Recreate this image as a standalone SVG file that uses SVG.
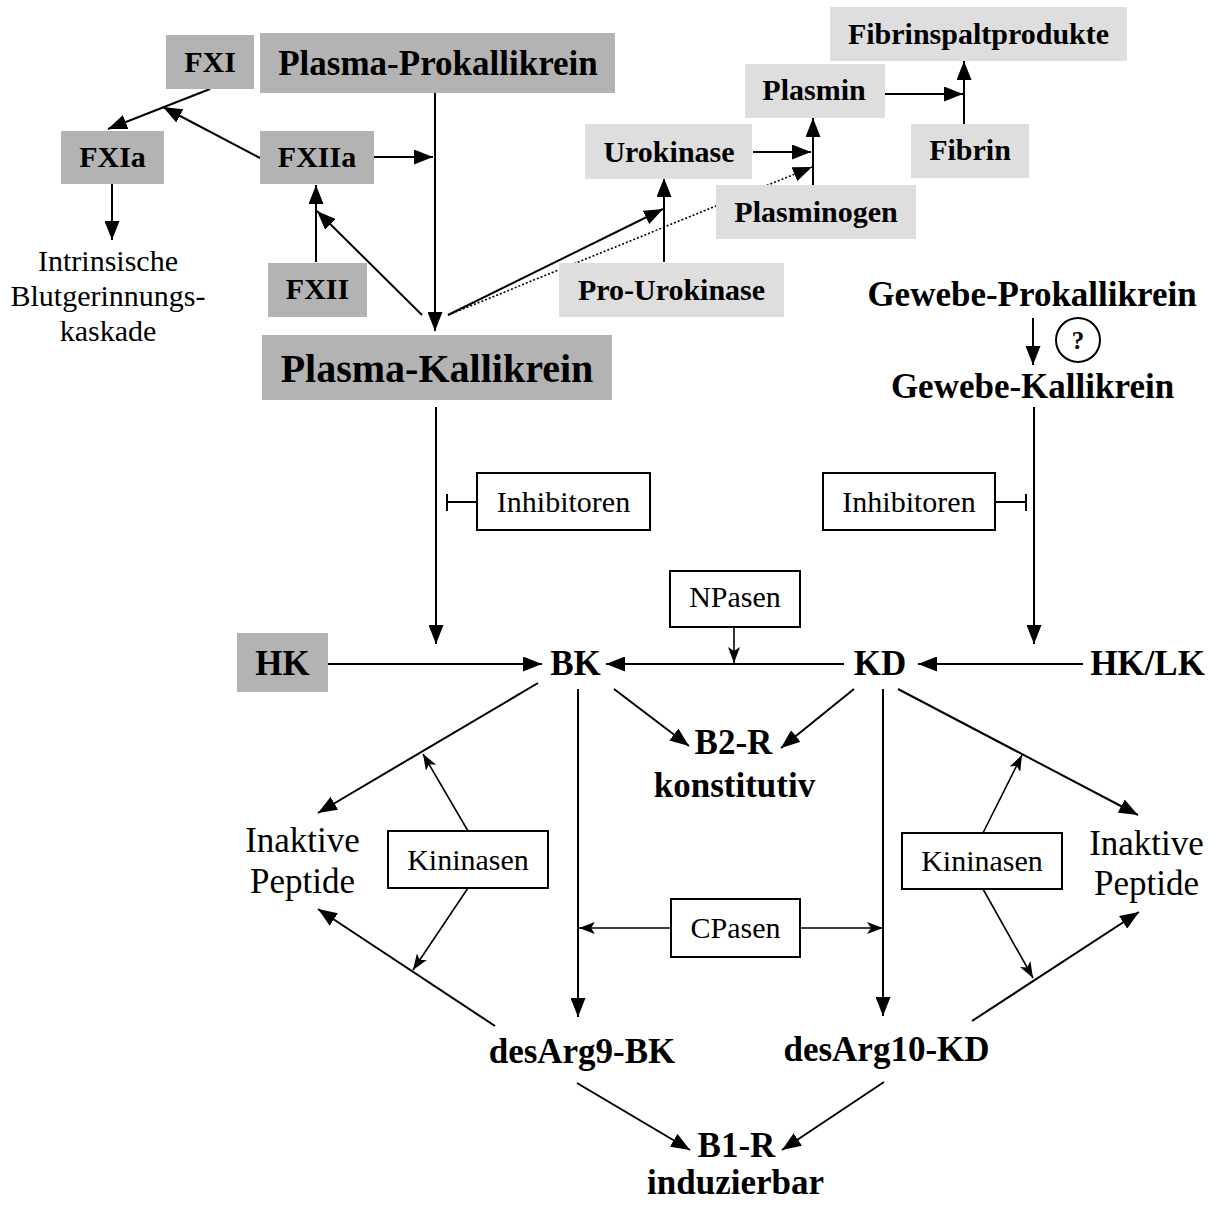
<svg xmlns="http://www.w3.org/2000/svg" width="1216" height="1205" viewBox="0 0 1216 1205">
<style>
text{font-family:"Liberation Serif","Times New Roman",serif;text-anchor:middle;fill:#000}
.b{font-weight:bold}
.f29{font-size:30px}
.f34{font-size:35px}
.f40{font-size:40px}
.dk{fill:#b3b3b3}
.lt{fill:#dedede}
.wb{fill:#fff;stroke:#000;stroke-width:2}
.m{stroke:#000;stroke-width:2;fill:none;marker-end:url(#arr)}
.t{stroke:#000;stroke-width:1.6;fill:none;marker-end:url(#arrs)}
.p{stroke:#000;stroke-width:2;fill:none}
.d{stroke:#000;stroke-width:1.6;fill:none;stroke-dasharray:2 2;marker-end:url(#arr)}
</style>
<defs>
<marker id="arr" markerUnits="userSpaceOnUse" markerWidth="19" markerHeight="15" refX="19" refY="7.5" orient="auto"><path d="M0,0 L19,7.5 L0,15 z" fill="#000"/></marker>
<marker id="arrs" markerUnits="userSpaceOnUse" markerWidth="16" markerHeight="12" refX="16" refY="6" orient="auto"><path d="M0,0 L16,6 L0,12 L4,6 z" fill="#000"/></marker>
</defs>
<rect width="1216" height="1205" fill="#fff"/>
<g id="connectors">
<path class="m" d="M210,89 L108,129"/>
<path class="m" d="M260,158 L163,107"/>
<path class="m" d="M374,157 L433,157"/>
<path class="m" d="M435,93 L435,331"/>
<path class="m" d="M316,262 L316,185"/>
<path class="m" d="M422,315 L317,211"/>
<path class="m" d="M448,315 L663,209"/>
<path class="d" d="M448,315 L812,167"/>
<path class="m" d="M664,262 L664,178"/>
<path class="m" d="M753,152 L811,152"/>
<path class="m" d="M813,185 L813,118"/>
<path class="m" d="M878,94 L963,94"/>
<path class="m" d="M964,124 L964,61"/>
<path class="m" d="M112,184 L112,240"/>
<path class="m" d="M1033,318 L1033,365"/>
<path class="m" d="M436,407 L436,644"/>
<path class="p" d="M477,502 L447,502 M447,494 L447,511"/>
<path class="m" d="M1034,407 L1034,644"/>
<path class="p" d="M995,502 L1026,502 M1026,494 L1026,511"/>
<path class="m" d="M328,664 L542,664"/>
<path class="m" d="M844,664 L606,664"/>
<path class="m" d="M1083,664 L918,664"/>
<path class="t" d="M734,627 L734,663"/>
<path class="m" d="M538,683 L318,813"/>
<path class="m" d="M614,689 L689,746"/>
<path class="m" d="M854,689 L781,748"/>
<path class="m" d="M578,689 L578,1017"/>
<path class="m" d="M883,689 L883,1016"/>
<path class="m" d="M898,689 L1138,815"/>
<path class="m" d="M495,1026 L318,909"/>
<path class="m" d="M972,1021 L1139,912"/>
<path class="m" d="M577,1083 L690,1150"/>
<path class="m" d="M884,1082 L782,1150"/>
<path class="t" d="M468,831 L423,754"/>
<path class="t" d="M468,888 L413,970"/>
<path class="t" d="M983,833 L1022,755"/>
<path class="t" d="M983,889 L1033,978"/>
<path class="t" d="M671,928 L579,928"/>
<path class="t" d="M800,928 L883,928"/>
</g>
<g id="fxi"><rect class="dk" x="166" y="35" width="88" height="54"/><text class="b f29" x="210" y="72">FXI</text></g>
<g id="plasma-prokallikrein"><rect class="dk" x="260" y="33" width="355" height="60"/><text class="b f34" x="438" y="75">Plasma-Prokallikrein</text></g>
<g id="fxia"><rect class="dk" x="61" y="131" width="103" height="53"/><text class="b f29" x="112.5" y="167">FXIa</text></g>
<g id="fxiia"><rect class="dk" x="260" y="131" width="114" height="53"/><text class="b f29" x="317" y="167">FXIIa</text></g>
<g id="fxii"><rect class="dk" x="268" y="263" width="99" height="54"/><text class="b f29" x="317.5" y="299">FXII</text></g>
<g id="intrinsisch"><text class="f29" x="108" y="271">Intrinsische</text><text class="f29" x="108" y="306">Blutgerinnungs-</text><text class="f29" x="108" y="341">kaskade</text></g>
<g id="plasma-kallikrein"><rect class="dk" x="262" y="335" width="350" height="65"/><text class="b f40" x="437" y="382">Plasma-Kallikrein</text></g>
<g id="urokinase"><rect class="lt" x="585" y="124" width="167" height="55"/><text class="b f29" x="669" y="162">Urokinase</text></g>
<g id="pro-urokinase"><rect class="lt" x="559" y="263" width="225" height="54"/><text class="b f29" x="671.5" y="300">Pro-Urokinase</text></g>
<g id="plasmin"><rect class="lt" x="745" y="64" width="140" height="54"/><text class="b f29" x="814" y="100">Plasmin</text></g>
<g id="plasminogen"><rect class="lt" x="716" y="185" width="200" height="54"/><text class="b f29" x="816" y="222">Plasminogen</text></g>
<g id="fibrinspaltprodukte"><rect class="lt" x="830" y="7" width="297" height="54"/><text class="b f29" x="978.5" y="44">Fibrinspaltprodukte</text></g>
<g id="fibrin"><rect class="lt" x="911" y="124" width="118" height="54"/><text class="b f29" x="970" y="160">Fibrin</text></g>
<g id="gewebe-prokallikrein"><text class="b f34" x="1032" y="306">Gewebe-Prokallikrein</text></g>
<g id="question"><circle cx="1078" cy="340" r="22" fill="none" stroke="#000" stroke-width="2"/><text class="b" x="1078" y="349" style="font-size:25px">?</text></g>
<g id="gewebe-kallikrein"><text class="b f34" x="1032.5" y="398">Gewebe-Kallikrein</text></g>
<g id="inhibitoren-l"><rect class="wb" x="477" y="473" width="173" height="57"/><text class="f29" x="563.5" y="512">Inhibitoren</text></g>
<g id="inhibitoren-r"><rect class="wb" x="823" y="473" width="172" height="57"/><text class="f29" x="909" y="512">Inhibitoren</text></g>
<g id="npasen"><rect class="wb" x="670" y="571" width="130" height="56"/><text class="f29" x="735" y="607">NPasen</text></g>
<g id="hk"><rect class="dk" x="237" y="633" width="91" height="59"/><text class="b f34" x="282.5" y="675">HK</text></g>
<g id="bk"><text class="b f34" x="575.5" y="675">BK</text></g>
<g id="kd"><text class="b f34" x="880" y="675">KD</text></g>
<g id="hklk"><text class="b f34" x="1147.5" y="675">HK/LK</text></g>
<g id="b2r"><text class="b f34" x="733.5" y="754">B2-R</text><text class="b f34" x="734.5" y="797">konstitutiv</text></g>
<g id="inaktive-l"><text class="f34" x="302.5" y="852">Inaktive</text><text class="f34" x="302.5" y="893">Peptide</text></g>
<g id="kininasen-l"><rect class="wb" x="388" y="831" width="160" height="57"/><text class="f29" x="468" y="870">Kininasen</text></g>
<g id="kininasen-r"><rect class="wb" x="902" y="833" width="160" height="56"/><text class="f29" x="982" y="871">Kininasen</text></g>
<g id="inaktive-r"><text class="f34" x="1146.5" y="855">Inaktive</text><text class="f34" x="1146.5" y="895">Peptide</text></g>
<g id="cpasen"><rect class="wb" x="671" y="899" width="129" height="58"/><text class="f29" x="735.5" y="938">CPasen</text></g>
<g id="desarg9"><text class="b f34" x="582" y="1063">desArg9-BK</text></g>
<g id="desarg10"><text class="b f34" x="886.5" y="1061">desArg10-KD</text></g>
<g id="b1r"><text class="b f34" x="736.5" y="1157">B1-R</text><text class="b f34" x="735.5" y="1194">induzierbar</text></g>
</svg>
